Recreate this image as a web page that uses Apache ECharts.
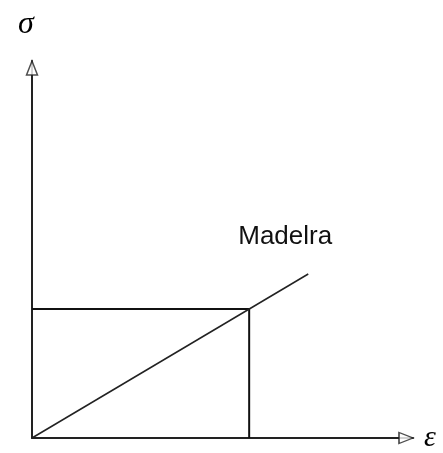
<!DOCTYPE html>
<html>
<head>
<meta charset="utf-8">
<script src="https://cdn.jsdelivr.net/npm/echarts@6/dist/echarts.min.js"></script>
<style>
  html, body { margin: 0; padding: 0; background: #fff; }
  #chart { width: 443px; height: 453px; }
</style>
</head>
<body>
<div id="chart"></div>
<script>
// dados do diagrama tensão x deformação (madeira)
const axisMax = [10, 10];
const linearLine = [[0, 0], [7.25, 4.35]];
const yieldBox = [[0, 3.42], [5.7, 3.42], [5.7, 0]];
const materialName = 'Madelra';

const myChart = echarts.init(document.getElementById('chart'));

myChart.setOption({
  backgroundColor: '#fff',
  animation: false,
  grid: { left: 32, right: 30, top: 61, bottom: 13 },
  xAxis: {
    type: 'value',
    min: 0,
    max: axisMax[0],
    name: 'ε',
    nameLocation: 'end',
    nameGap: 11,
    nameTextStyle: { fontFamily: 'Liberation Serif', fontStyle: 'italic', fontSize: 30, color: '#000', padding: [8, 0, 0, 0] },
    axisLine: { show: true, lineStyle: { color: '#222', width: 2 } },
    axisTick: { show: false },
    axisLabel: { show: false },
    splitLine: { show: false }
  },
  yAxis: {
    type: 'value',
    min: 0,
    max: axisMax[1],
    name: 'σ',
    nameLocation: 'end',
    nameGap: 20,
    nameTextStyle: { fontFamily: 'Liberation Serif', fontStyle: 'italic', fontSize: 32, color: '#000', align: 'center', padding: [0, 12, 0, 0] },
    axisLine: { show: true, lineStyle: { color: '#222', width: 2 } },
    axisTick: { show: false },
    axisLabel: { show: false },
    splitLine: { show: false }
  },
  series: [
    {
      // retângulo até o ponto limite
      type: 'line',
      data: yieldBox,
      symbol: 'none',
      lineStyle: { color: '#111', width: 2 },
      z: 2
    },
    {
      // reta linear elástica
      type: 'line',
      data: linearLine,
      symbol: 'none',
      lineStyle: { color: '#222', width: 1.5 },
      endLabel: {
        show: true,
        formatter: materialName,
        fontFamily: 'Liberation Sans',
        fontSize: 26,
        color: '#111',
        offset: [-78, -37]
      },
      z: 3
    },
    {
      // setas dos eixos
      type: 'scatter',
      data: [
        { value: [axisMax[0], 0], symbolRotate: -90, symbolOffset: [-7, 0] },
        { value: [0, axisMax[1]], symbolRotate: 0, symbolOffset: [0, 7] }
      ],
      symbol: 'triangle',
      symbolSize: [11, 14],
      itemStyle: { color: '#fff', borderColor: '#222', borderWidth: 1.5 },
      z: 5,
      silent: true
    }
  ]
});
</script>
</body>
</html>
